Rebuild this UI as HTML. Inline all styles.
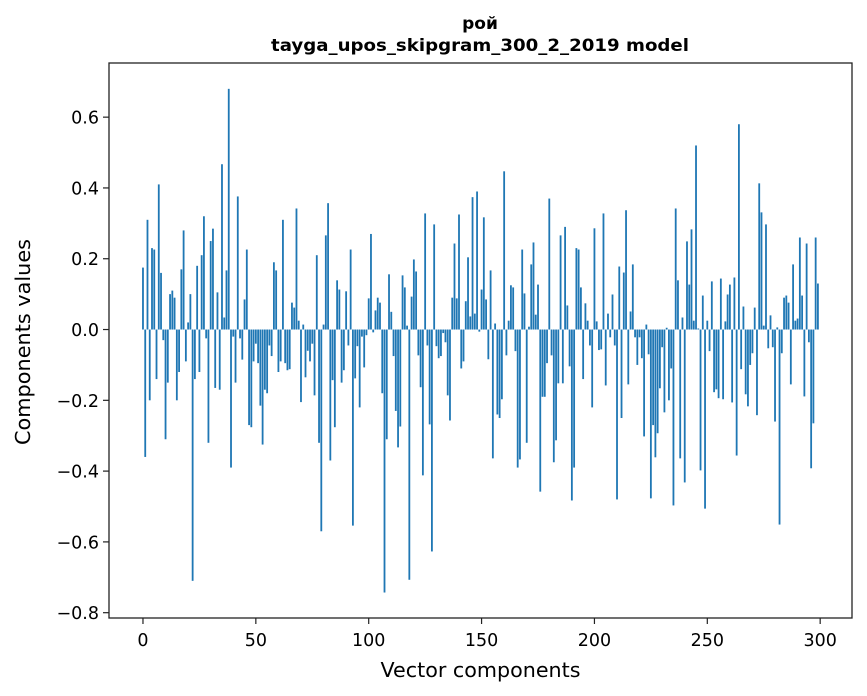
<!DOCTYPE html>
<html><head><meta charset="utf-8"><style>
html,body{margin:0;padding:0;background:#fff;}
svg{display:block;}
</style></head><body>
<svg id="chart" width="867" height="696" viewBox="0 0 867 696" xmlns="http://www.w3.org/2000/svg">
<text x="480" y="29" text-anchor="middle" font-family="DejaVu Sans, sans-serif" font-weight="bold" font-size="17" fill="#000">рой</text>
<text x="480" y="51" text-anchor="middle" font-family="DejaVu Sans, sans-serif" font-weight="bold" font-size="17" textLength="418" lengthAdjust="spacingAndGlyphs" fill="#000">tayga_upos_skipgram_300_2_2019 model</text>
<g id="bars"></g>
<g id="axes"></g>
<text x="480.5" y="677" text-anchor="middle" font-family="DejaVu Sans, sans-serif" font-size="20" textLength="200" lengthAdjust="spacingAndGlyphs" fill="#000">Vector components</text>
<text transform="translate(30,342) rotate(-90)" text-anchor="middle" font-family="DejaVu Sans, sans-serif" font-size="20" textLength="206" lengthAdjust="spacingAndGlyphs" fill="#000">Components values</text>
</svg>
<script>
const values = [
0.175,-0.36,0.31,-0.2,0.23,0.226,-0.14,0.41,0.16,-0.03,
-0.31,-0.15,0.1,0.11,0.09,-0.2,-0.12,0.17,0.28,-0.09,
0.02,0.1,-0.71,-0.14,0.18,-0.12,0.21,0.32,-0.025,-0.32,
0.25,0.285,-0.165,0.105,-0.17,0.467,0.034,0.167,0.68,-0.39,
-0.02,-0.15,0.376,-0.025,-0.085,0.085,0.226,-0.27,-0.276,-0.09,
-0.04,-0.095,-0.215,-0.325,-0.17,-0.18,-0.045,-0.075,0.19,0.167,
-0.12,-0.09,0.31,-0.095,-0.115,-0.112,0.076,0.062,0.342,0.025,
-0.205,0.014,-0.135,-0.06,-0.09,-0.04,-0.186,0.21,-0.32,-0.57,
0.014,0.266,0.357,-0.37,-0.143,-0.276,0.139,0.113,-0.15,-0.115,
0.108,-0.045,0.226,-0.554,-0.138,-0.047,-0.22,-0.02,-0.107,-0.016,
0.088,0.27,-0.008,0.054,0.09,0.076,-0.18,-0.743,-0.31,0.156,
0.05,-0.075,-0.23,-0.333,-0.274,0.153,0.119,0.011,-0.707,0.093,
0.198,0.164,-0.073,-0.163,-0.412,0.328,-0.045,-0.268,-0.627,0.297,
-0.047,-0.081,-0.075,-0.01,-0.036,-0.186,-0.257,0.09,0.243,0.088,
0.325,-0.11,-0.09,0.08,0.204,0.037,0.374,0.045,0.39,-0.006,
0.113,0.317,0.085,-0.084,0.167,-0.364,0.017,-0.24,-0.25,-0.197,
0.447,-0.073,0.025,0.125,0.119,-0.061,-0.39,-0.367,0.226,0.102,
-0.32,0.008,0.184,0.246,0.042,0.127,-0.458,-0.19,-0.19,-0.095,
0.37,-0.073,-0.375,-0.313,-0.152,0.266,-0.152,0.29,0.068,-0.104,
-0.483,-0.39,0.23,0.226,0.119,-0.14,0.074,0.025,-0.045,-0.22,
0.286,0.023,-0.058,-0.056,0.328,-0.158,0.045,-0.022,0.099,-0.045,
-0.48,0.178,-0.25,0.161,0.337,-0.155,0.051,0.184,-0.022,-0.1,
-0.022,-0.081,-0.302,0.014,-0.07,-0.477,-0.27,-0.361,-0.293,-0.166,
-0.05,-0.234,0.005,-0.2,-0.11,-0.497,0.342,0.139,-0.364,0.034,
-0.432,0.249,0.127,0.283,0.025,0.52,0.003,-0.398,0.096,-0.506,
0.025,-0.061,0.136,-0.177,-0.169,-0.194,0.144,-0.197,0.023,0.099,
0.127,-0.206,0.147,-0.356,0.58,-0.112,0.065,-0.183,-0.217,-0.1,
-0.067,0.062,-0.242,0.413,0.331,0.011,0.297,-0.053,0.04,-0.05,
-0.26,0.006,-0.551,-0.067,0.09,0.096,0.076,-0.155,0.184,0.025,
0.031,0.26,0.096,-0.189,0.243,-0.036,-0.392,-0.265,0.26,0.13
];
const xTicks = [0,50,100,150,200,250,300];
const yTicks = [-0.8,-0.6,-0.4,-0.2,0.0,0.2,0.4,0.6];
const yTickLabels = ["\u22120.8","\u22120.6","\u22120.4","\u22120.2","0.0","0.2","0.4","0.6"];

const NS = "http://www.w3.org/2000/svg";
const L = 109, R = 852, T = 63, B = 618;
const xMin = -15.05, xMax = 314.1, yMin = -0.815, yMax = 0.753;
function sx(v){ return L + (v - xMin) / (xMax - xMin) * (R - L); }
function sy(v){ return T + (yMax - v) / (yMax - yMin) * (B - T); }

const bars = document.getElementById('bars');
values.forEach((v, i) => {
  const r = document.createElementNS(NS, 'rect');
  const x0 = sx(i - 0.4), x1 = sx(i + 0.4);
  const y0 = sy(Math.max(v, 0)), y1 = sy(Math.min(v, 0));
  r.setAttribute('x', x0);
  r.setAttribute('width', x1 - x0);
  r.setAttribute('y', y0);
  r.setAttribute('height', Math.max(y1 - y0, 0.01));
  r.setAttribute('fill', '#1f77b4');
  
  
  bars.appendChild(r);
});

const axes = document.getElementById('axes');
const frame = document.createElementNS(NS, 'rect');
frame.setAttribute('x', L); frame.setAttribute('y', T);
frame.setAttribute('width', R - L); frame.setAttribute('height', B - T);
frame.setAttribute('fill', 'none'); frame.setAttribute('stroke', '#222'); frame.setAttribute('stroke-width', '1.3');


axes.appendChild(frame);

xTicks.forEach(t => {
  const x = sx(t);
  const ln = document.createElementNS(NS, 'line');
  ln.setAttribute('x1', x); ln.setAttribute('x2', x);
  ln.setAttribute('y1', B); ln.setAttribute('y2', B + 6);
  ln.setAttribute('stroke', '#222'); ln.setAttribute('stroke-width', '1.2');
  
  
  axes.appendChild(ln);
  const tx = document.createElementNS(NS, 'text');
  tx.setAttribute('x', x); tx.setAttribute('y', B + 28);
  tx.setAttribute('text-anchor', 'middle');
  tx.setAttribute('font-family', 'DejaVu Sans, sans-serif');
  tx.setAttribute('font-size', '17.5');
  tx.textContent = String(t);
  
  
  axes.appendChild(tx);
});

yTicks.forEach((t, k) => {
  const y = sy(t);
  const ln = document.createElementNS(NS, 'line');
  ln.setAttribute('x1', L - 6); ln.setAttribute('x2', L);
  ln.setAttribute('y1', y); ln.setAttribute('y2', y);
  ln.setAttribute('stroke', '#222'); ln.setAttribute('stroke-width', '1.2');
  
  
  axes.appendChild(ln);
  const tx = document.createElementNS(NS, 'text');
  tx.setAttribute('x', L - 10); tx.setAttribute('y', y + 6.5);
  tx.setAttribute('text-anchor', 'end');
  tx.setAttribute('font-family', 'DejaVu Sans, sans-serif');
  tx.setAttribute('font-size', '17.5');
  tx.textContent = yTickLabels[k];
  
  
  axes.appendChild(tx);
});
</script>
</body></html>
